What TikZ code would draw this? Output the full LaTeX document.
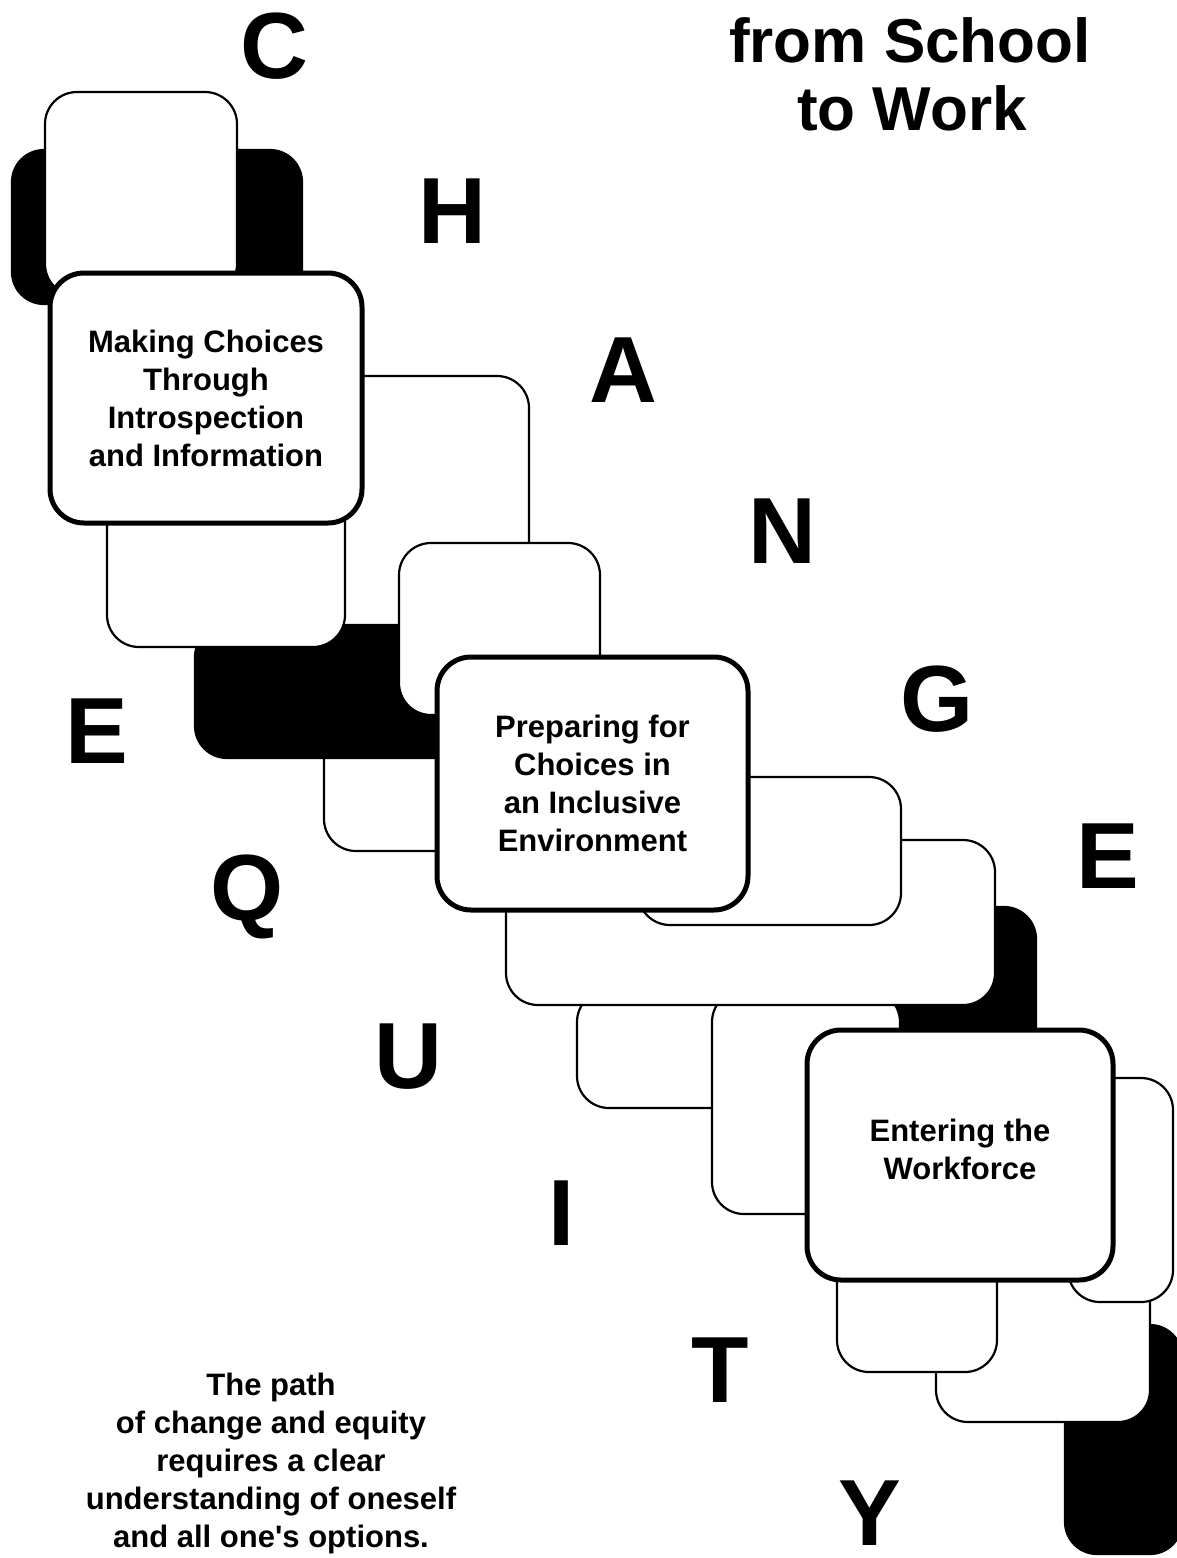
\documentclass[tikz,border=0pt]{standalone}
\usepackage{fontspec}
\setmainfont{Liberation Sans}[Ligatures=TeXOff]
\begin{document}
\begin{tikzpicture}[x=1pt,y=-1pt,
  card/.style={draw=black, line width=2.2pt, fill=white, rounded corners=32pt},
  darkcard/.style={draw=black, line width=2.2pt, fill=black, rounded corners=32pt},
  mainbox/.style={draw=black, line width=5pt, fill=white, rounded corners=34pt, inner sep=0pt},
  bigletter/.style={font=\fontsize{94}{94}\selectfont\bfseries, anchor=base, inner sep=0pt},
  boxtext/.style={font=\fontsize{31}{38}\selectfont\bfseries, align=center, inner sep=0pt},
  titletext/.style={font=\fontsize{62}{68}\selectfont\bfseries, anchor=base, inner sep=0pt},
]
\useasboundingbox (0,0) rectangle (1176,1558);

% ---- top group ----
\draw[darkcard] (12,150) rectangle (302,304);
\draw[card] (45,92) rectangle (237,296);
\draw[card] (200,376) rectangle (529,640);
\draw[card] (324,700) rectangle (470,851);
\draw[darkcard] (195,625) rectangle (470,758);
\draw[card] (107,490) rectangle (345,647);
\node[mainbox, minimum width=312pt, minimum height=250pt] (m1) at (206,398) {};
\draw[card] (399,543) rectangle (600,715);

% ---- middle group ----
\draw[darkcard] (850,907) rectangle (1036,1060);
\draw[card] (577,990) rectangle (740,1108);
\draw[card] (712,990) rectangle (900,1214);
\draw[card] (506,840) rectangle (995,1005);
\draw[card] (638,777) rectangle (901,925);
\node[mainbox, minimum width=311pt, minimum height=253pt] (m2) at (592.5,783.5) {};

% ---- bottom group ----
\draw[darkcard] (1065,1325) rectangle (1182,1554);
\draw[card] (936,1250) rectangle (1150,1422);
\draw[card] (1068,1078) rectangle (1173,1302);
\draw[card] (837,1250) rectangle (997,1372);
\node[mainbox, minimum width=306pt, minimum height=250pt] (m3) at (960,1155) {};

% ---- box texts ----
\node[boxtext] (t1) at (m1.center) {Making Choices\\Through\\Introspection\\and Information};
\node[boxtext] (t2) at (m2.center) {Preparing for\\Choices in\\an Inclusive\\Environment};
\node[boxtext] (t3) at ([yshift=6pt]m3.center) {Entering the\\Workforce};

% ---- title ----
\node[titletext] (title1) at (910,62) {from School};
\node[titletext] (title2) at (912,130) {to Work};

% ---- big letters ----
\node[bigletter] (lC) at (274,78) {C};
\node[bigletter] (lH) at (452,243) {H};
\node[bigletter] (lA) at (623,402) {A};
\node[bigletter] (lN) at (782,563) {N};
\node[bigletter] (lG) at (937,731) {G};
\node[bigletter] (lE2) at (1108,888) {E};
\node[bigletter] (lE1) at (97,763) {E};
\node[bigletter] (lQ) at (247,920) {Q};
\node[bigletter] (lU) at (408,1088) {U};
\node[bigletter] (lI) at (562,1245) {I};
\node[bigletter] (lT) at (720,1402) {T};
\node[bigletter] (lY) at (870,1545) {Y};

% ---- bottom caption ----
\node[boxtext] (caption) at (271,1463) {The path\\of change and equity\\requires a clear\\understanding of oneself\\and all one's options.};
\end{tikzpicture}
\end{document}
